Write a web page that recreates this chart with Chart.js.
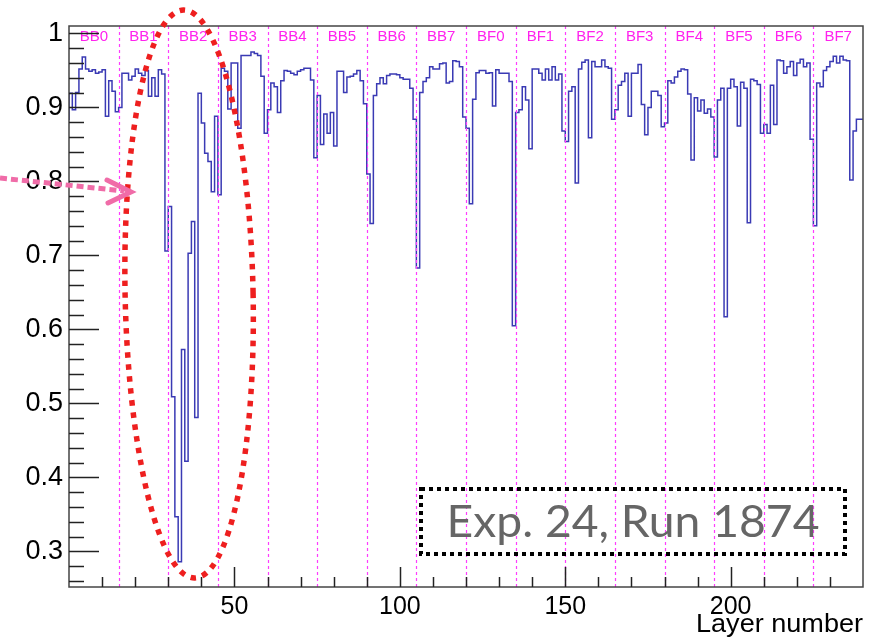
<!DOCTYPE html>
<html>
<head>
<meta charset="utf-8">
<script src="https://cdn.jsdelivr.net/npm/chart.js@4.4.1/dist/chart.umd.min.js"></script>
<style>
  html, body { margin: 0; padding: 0; background: #fff; }
  #wrap { width: 889px; height: 637px; }
</style>
</head>
<body>
<div id="wrap"><canvas id="chart" width="889" height="637"></canvas></div>
<script>
// --- Data: efficiency per layer, 15 layers per module ---
const moduleNames = ["BB0", "BB1", "BB2", "BB3", "BB4", "BB5", "BB6", "BB7",
                     "BF0", "BF1", "BF2", "BF3", "BF4", "BF5", "BF6", "BF7"];
const layersPerModule = 15;

const bb0 = [0.883, 0.919, 0.897, 0.920, 0.952, 0.968, 0.952, 0.949, 0.951, 0.946, 0.948, 0.951, 0.888, 0.936, 0.922];
const bb1 = [0.894, 0.900, 0.946, 0.946, 0.937, 0.942, 0.952, 0.946, 0.943, 0.950, 0.915, 0.940, 0.915, 0.951, 0.945];
const bb2 = [0.706, 0.766, 0.509, 0.347, 0.286, 0.573, 0.422, 0.703, 0.746, 0.481, 0.919, 0.879, 0.838, 0.827, 0.786];
const bb3 = [0.888, 0.782, 0.953, 0.949, 0.898, 0.960, 0.960, 0.872, 0.970, 0.970, 0.970, 0.975, 0.973, 0.970, 0.942];
const bb4 = [0.865, 0.897, 0.933, 0.928, 0.893, 0.936, 0.950, 0.949, 0.946, 0.944, 0.949, 0.951, 0.953, 0.953, 0.937];
const bb5 = [0.832, 0.916, 0.850, 0.891, 0.865, 0.893, 0.848, 0.949, 0.949, 0.920, 0.941, 0.942, 0.945, 0.950, 0.936];
const bb6 = [0.905, 0.810, 0.743, 0.916, 0.932, 0.940, 0.932, 0.943, 0.945, 0.945, 0.944, 0.940, 0.938, 0.938, 0.926];
const bb7 = [0.884, 0.683, 0.920, 0.935, 0.940, 0.955, 0.952, 0.952, 0.959, 0.960, 0.933, 0.935, 0.963, 0.962, 0.955];
const bf0 = [0.887, 0.872, 0.770, 0.911, 0.947, 0.950, 0.950, 0.946, 0.947, 0.902, 0.951, 0.946, 0.946, 0.946, 0.935];
const bf1 = [0.605, 0.893, 0.897, 0.928, 0.910, 0.844, 0.952, 0.952, 0.946, 0.937, 0.952, 0.937, 0.955, 0.937, 0.945];
const bf2 = [0.868, 0.854, 0.922, 0.928, 0.798, 0.952, 0.961, 0.964, 0.859, 0.962, 0.955, 0.955, 0.964, 0.955, 0.953];
const bf3 = [0.884, 0.897, 0.930, 0.935, 0.946, 0.888, 0.946, 0.946, 0.958, 0.904, 0.863, 0.900, 0.922, 0.922, 0.916];
const bf4 = [0.874, 0.879, 0.936, 0.933, 0.941, 0.949, 0.952, 0.951, 0.918, 0.829, 0.913, 0.895, 0.910, 0.892, 0.898];
const bf5 = [0.887, 0.833, 0.910, 0.926, 0.617, 0.926, 0.938, 0.928, 0.875, 0.934, 0.926, 0.744, 0.938, 0.936, 0.931];
const bf6 = [0.865, 0.877, 0.865, 0.930, 0.877, 0.964, 0.963, 0.946, 0.955, 0.962, 0.943, 0.960, 0.965, 0.955, 0.960];
const bf7 = [0.857, 0.740, 0.933, 0.928, 0.950, 0.955, 0.962, 0.969, 0.960, 0.969, 0.964, 0.963, 0.802, 0.868, 0.884];

const layerEff = [...bb0, ...bb1, ...bb2, ...bb3, ...bb4, ...bb5, ...bb6, ...bb7,
                  ...bf0, ...bf1, ...bf2, ...bf3, ...bf4, ...bf5, ...bf6, ...bf7];

const xTicks = [50, 100, 150, 200];
const yTicks = [0.3, 0.4, 0.5, 0.6, 0.7, 0.8, 0.9, 1.0];
const yTickLabels = ["0.3", "0.4", "0.5", "0.6", "0.7", "0.8", "0.9", "1"];
const xTitle = "Layer number";
const boxText = "Exp. 24, Run 1874";

// histogram outline: one point per bin left edge, plus the closing edge
const histPoints = layerEff.map((v, i) => ({ x: i, y: v }));
histPoints.push({ x: layerEff.length, y: layerEff[layerEff.length - 1] });

const axisFont = "'Liberation Sans', Arial, sans-serif";

// --- Frame, inside ticks, module lines and the hand-drawn notes ---
const decor = {
  id: "decor",
  afterDraw(chart) {
    const { ctx, chartArea: a, scales: { x, y } } = chart;
    ctx.save();

    // module boundaries
    ctx.strokeStyle = "#ff3cff";
    ctx.lineWidth = 1.2;
    ctx.setLineDash([3, 3]);
    for (let m = 1; m < moduleNames.length; m++) {
      const px = Math.round(x.getPixelForValue(m * layersPerModule)) + 0.5;
      ctx.beginPath();
      ctx.moveTo(px, a.top);
      ctx.lineTo(px, a.bottom);
      ctx.stroke();
    }
    ctx.setLineDash([]);

    // module names
    ctx.fillStyle = "#ff22ee";
    ctx.font = "15px " + axisFont;
    ctx.textAlign = "center";
    ctx.textBaseline = "middle";
    moduleNames.forEach((name, m) => {
      ctx.fillText(name, x.getPixelForValue((m + 0.5) * layersPerModule), a.top + 11);
    });

    // frame
    ctx.strokeStyle = "#444";
    ctx.lineWidth = 1.5;
    ctx.strokeRect(a.left, a.top, a.right - a.left, a.bottom - a.top);

    // y ticks (inside)
    ctx.strokeStyle = "#222";
    ctx.lineWidth = 1.5;
    for (let k = 0; k <= 37; k++) {
      const v = 0.26 + k * 0.02;
      const py = Math.round(y.getPixelForValue(v)) + 0.5;
      const major = Math.abs(v * 10 - Math.round(v * 10)) < 1e-6;
      ctx.beginPath();
      ctx.moveTo(a.left, py);
      ctx.lineTo(a.left + (major ? 30 : 15), py);
      ctx.stroke();
    }
    // x ticks (inside)
    for (let v = 10; v < 240; v += 10) {
      const px = Math.round(x.getPixelForValue(v)) + 0.5;
      ctx.beginPath();
      ctx.moveTo(px, a.bottom);
      ctx.lineTo(px, a.bottom - (v % 50 === 0 ? 20 : 10));
      ctx.stroke();
    }

    // x title
    ctx.fillStyle = "#000";
    ctx.font = "25px " + axisFont;
    ctx.textAlign = "right";
    ctx.textBaseline = "alphabetic";
    const tw = ctx.measureText(xTitle).width;
    ctx.save();
    ctx.translate(a.right, 632);
    ctx.scale(167 / tw, 1);
    ctx.fillText(xTitle, 0, 0);
    ctx.restore();

    // red dotted ellipse round BB2
    ctx.strokeStyle = "#ee1f1f";
    ctx.lineWidth = 5.5;
    ctx.setLineDash([5.5, 6.5]);
    ctx.beginPath();
    ctx.ellipse(x.getPixelForValue(36.3), 294, 64, 284, -0.02, 0, Math.PI * 2);
    ctx.stroke();

    // pink dotted arrow
    ctx.strokeStyle = "#f06ca8";
    ctx.lineWidth = 5;
    ctx.setLineDash([7, 4]);
    ctx.beginPath();
    ctx.moveTo(0, 178);
    ctx.lineTo(124, 191);
    ctx.stroke();
    ctx.setLineDash([]);
    ctx.lineCap = "round";
    ctx.beginPath();
    ctx.moveTo(107, 180);
    ctx.lineTo(131, 192);
    ctx.lineTo(108, 203);
    ctx.stroke();
    ctx.lineCap = "butt";

    // run label box
    ctx.strokeStyle = "#000";
    ctx.lineWidth = 4;
    ctx.setLineDash([4, 4]);
    ctx.strokeRect(421, 489, 424, 65);
    ctx.setLineDash([]);
    ctx.fillStyle = "#666";
    ctx.font = "400 44px Lato, 'Noto Sans', sans-serif";
    ctx.textAlign = "center";
    ctx.textBaseline = "alphabetic";
    const bw = ctx.measureText(boxText).width;
    ctx.save();
    ctx.translate(633, 537);
    ctx.scale(373 / bw, 1);
    ctx.fillText(boxText, 0, 0);
    ctx.restore();

    ctx.restore();
  }
};

const canvas = document.getElementById("chart").getContext("2d");
new Chart(canvas, {
  type: "line",
  data: {
    datasets: [{
      data: histPoints,
      stepped: "after",
      borderColor: "#3a3ab4",
      borderWidth: 1.5,
      pointRadius: 0,
      fill: false
    }]
  },
  options: {
    responsive: false,
    animation: false,
    devicePixelRatio: 1,
    layout: { padding: { top: 26, right: 26, left: 0, bottom: 0 } },
    plugins: { legend: { display: false }, tooltip: { enabled: false } },
    scales: {
      x: {
        type: "linear",
        min: 0,
        max: 240,
        afterFit: s => { s.height = 50; },
        afterBuildTicks: s => { s.ticks = xTicks.map(v => ({ value: v })); },
        grid: { display: false, drawTicks: false },
        border: { display: false },
        ticks: {
          font: { family: axisFont, size: 25 },
          color: "#000",
          padding: 5,
          maxRotation: 0,
          autoSkip: false
        }
      },
      y: {
        min: 0.252,
        max: 1.01,
        afterFit: s => { s.width = 69; },
        afterBuildTicks: s => { s.ticks = yTicks.map(v => ({ value: v })); },
        grid: { display: false, drawTicks: false },
        border: { display: false },
        ticks: {
          callback: (v, i) => yTickLabels[i],
          font: { family: axisFont, size: 27 },
          color: "#000",
          padding: 6,
          autoSkip: false
        }
      }
    }
  },
  plugins: [decor]
});
</script>
</body>
</html>
